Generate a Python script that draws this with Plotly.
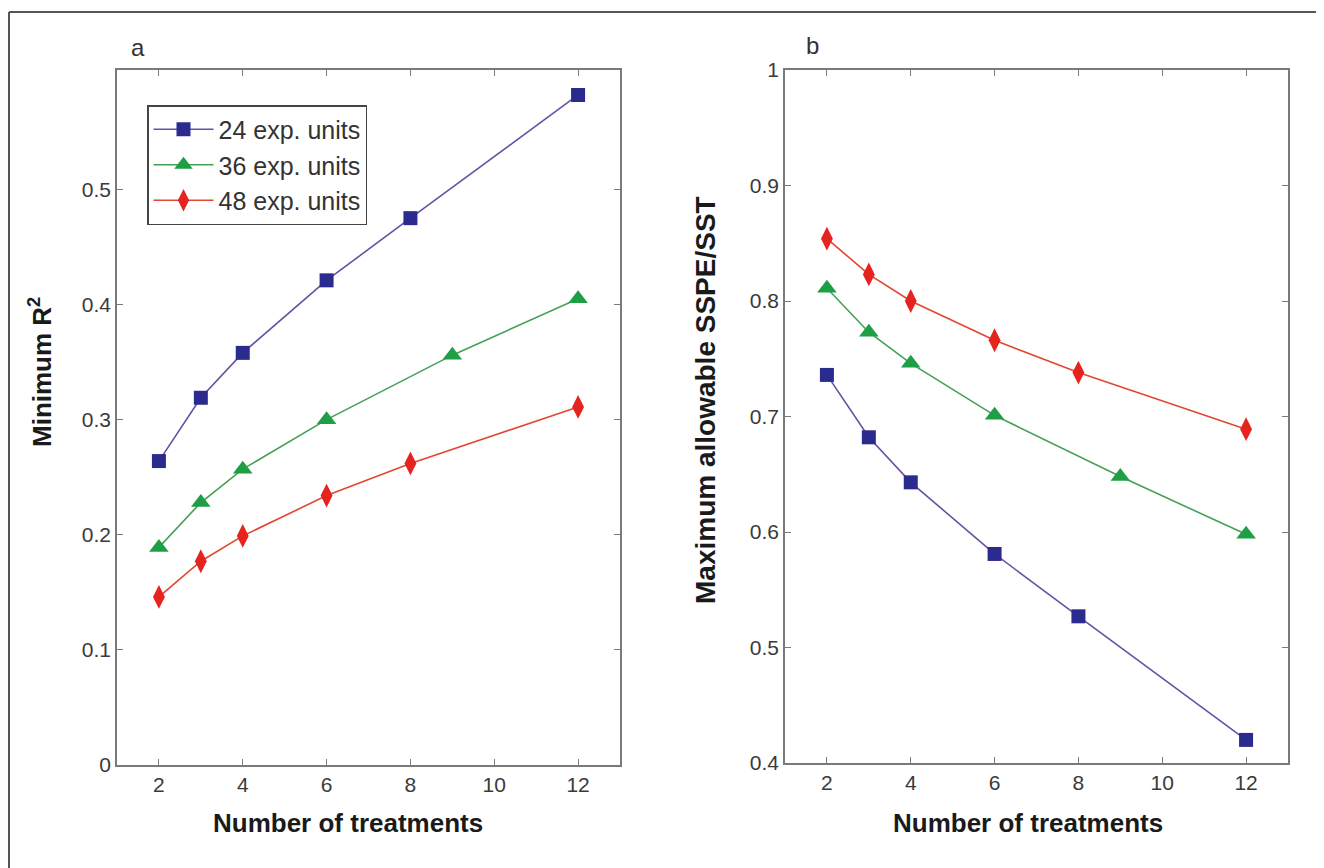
import plotly.graph_objects as go

W, H = 1324, 868
OX, OY = -8, -8   # compensate page body margin

# ---------------- data ----------------
series_names = ["24 exp. units", "36 exp. units", "48 exp. units"]

x_24 = [2, 3, 4, 6, 8, 12]
x_36 = [2, 3, 4, 6, 9, 12]
x_48 = [2, 3, 4, 6, 8, 12]

# panel a: Minimum R^2
r2_24 = [0.264, 0.319, 0.358, 0.421, 0.475, 0.582]
r2_36 = [0.189, 0.228, 0.257, 0.300, 0.356, 0.405]
r2_48 = [0.146, 0.177, 0.199, 0.234, 0.262, 0.311]

# panel b: Maximum allowable SSPE/SST
sspe_24 = [0.736, 0.682, 0.643, 0.581, 0.527, 0.420]
sspe_36 = [0.811, 0.773, 0.746, 0.701, 0.648, 0.598]
sspe_48 = [0.854, 0.823, 0.800, 0.766, 0.738, 0.689]

x_ticks = [2, 4, 6, 8, 10, 12]
ya_ticks = [0, 0.1, 0.2, 0.3, 0.4, 0.5]
ya_ticktext = ["0", "0.1", "0.2", "0.3", "0.4", "0.5"]
yb_ticks = [0.4, 0.5, 0.6, 0.7, 0.8, 0.9, 1.0]
yb_ticktext = ["0.4", "0.5", "0.6", "0.7", "0.8", "0.9", "1"]

# ---------------- styles ----------------
marker_colors = ["#2b2a8f", "#1f9f45", "#e5231f"]
line_colors = ["#6552a3", "#46a058", "#e2472f"]
symbols = ["square", "triangle-up", "diamond-tall"]
sizes = [14, 17, 17]


def px(x):
    return (x + OX) / W


def py(y):
    return 1 - (y + OY) / H


fig = go.Figure()

xs = [x_24, x_36, x_48]
a_vals = [r2_24, r2_36, r2_48]
b_vals = [sspe_24, sspe_36, sspe_48]

for i in range(3):
    fig.add_trace(go.Scatter(
        x=xs[i], y=a_vals[i], name=series_names[i], mode="lines+markers",
        line=dict(color=line_colors[i], width=1.6),
        marker=dict(symbol=symbols[i], size=sizes[i], color=marker_colors[i],
                    line=dict(width=0)),
        xaxis="x", yaxis="y", showlegend=True))
for i in range(3):
    fig.add_trace(go.Scatter(
        x=xs[i], y=b_vals[i], name=series_names[i], mode="lines+markers",
        line=dict(color=line_colors[i], width=1.6),
        marker=dict(symbol=symbols[i], size=sizes[i], color=marker_colors[i],
                    line=dict(width=0)),
        xaxis="x2", yaxis="y2", showlegend=False))

tick_font = dict(family="Liberation Sans Narrow, Arial Narrow, Liberation Sans, Arial", size=21, color="#3a3a3a")
axis_common = dict(showline=True, linecolor="#7a7a7a", linewidth=1.6, mirror="ticks",
                   ticks="inside", ticklen=6, tickcolor="#7a7a7a", tickwidth=1.4,
                   showgrid=False, zeroline=False, tickfont=tick_font, automargin=False)

fig.update_layout(
    width=W, height=H,
    margin=dict(l=0, r=0, t=0, b=0, pad=0, autoexpand=False),
    paper_bgcolor="white", plot_bgcolor="white",
    xaxis=dict(domain=[px(117), px(620)], range=[1, 13], tickvals=x_ticks,
               anchor="y", **axis_common),
    yaxis=dict(domain=[py(765), py(70)], range=[0, 0.6037], tickvals=ya_ticks,
               ticktext=ya_ticktext, anchor="x", **axis_common),
    xaxis2=dict(domain=[px(785), px(1288)], range=[1, 13], tickvals=x_ticks,
                anchor="y2", **axis_common),
    yaxis2=dict(domain=[py(763), py(70)], range=[0.4, 1.0], tickvals=yb_ticks,
                ticktext=yb_ticktext, anchor="x2", **axis_common),
    legend=dict(x=px(147), y=py(105), xanchor="left", yanchor="top",
                bgcolor="white", bordercolor="#444444", borderwidth=1.5,
                font=dict(family="Liberation Sans, Arial", size=25, color="#333333"),
                tracegroupgap=0, itemwidth=60),
    showlegend=True,
)

title_font = dict(family="Liberation Sans, Arial", size=26, color="#1a1a1a")
anns = [
    dict(x=px(138), y=py(47), text="a", font=dict(family="Liberation Sans, Arial", size=24, color="#333333")),
    dict(x=px(812), y=py(46), text="b", font=dict(family="Liberation Sans, Arial", size=24, color="#333333")),
    dict(x=px(348), y=py(823), text="<b>Number of treatments</b>", font=title_font),
    dict(x=px(1028), y=py(823), text="<b>Number of treatments</b>", font=title_font),
    dict(x=px(40), y=py(372), text="<b>Minimum R<sup>2</sup></b>", textangle=-90, font=title_font),
    dict(x=px(705), y=py(400), text="<b>Maximum allowable SSPE/SST</b>", textangle=-90,
         font=dict(family="Liberation Sans, Arial", size=28, color="#1a1a1a")),
]
for a in anns:
    a.update(xref="paper", yref="paper", showarrow=False, xanchor="center", yanchor="middle")
fig.update_layout(annotations=anns)

# outer frame of the figure
fig.add_shape(type="line", xref="paper", yref="paper", x0=px(9), x1=1.0, y0=py(12), y1=py(12),
              line=dict(color="#555555", width=2))
fig.add_shape(type="line", xref="paper", yref="paper", x0=px(9), x1=px(9), y0=py(12), y1=0,
              line=dict(color="#555555", width=2))

fig.write_html("out.html")
